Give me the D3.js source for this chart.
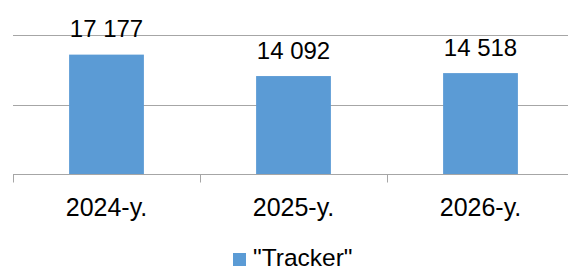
<!DOCTYPE html>
<html><head><meta charset="utf-8">
<script src="https://cdn.jsdelivr.net/npm/d3@7"></script>
<style>html,body{margin:0;padding:0;background:#fff;}svg{display:block;font-family:"Liberation Sans",Arial,sans-serif;}</style>
</head><body><svg id="c" width="568" height="269"></svg>
<script>
const categories = ["2024-y.", "2025-y.", "2026-y."];
const values = [17177, 14092, 14518];
const valueLabels = ["17 177", "14 092", "14 518"];
const yTicks = [0, 10000, 20000];
const seriesName = "\"Tracker\"";

(function () {
const svg = d3.select("#c");
const pLeft = 13, pRight = 574, pTop = 35, pBottom = 174;
const x = d3.scaleBand().domain(categories).range([pLeft, pRight]).paddingInner(0).paddingOuter(0);
const y = d3.scaleLinear().domain([0, 20000]).range([pBottom, pTop]);
const barW = x.bandwidth() * 0.4;
const color = "#5B9BD5";

// gridlines
svg.append("g").selectAll("line").data(yTicks.filter(d => d > 0)).join("line")
  .attr("x1", pLeft).attr("x2", pRight)
  .attr("y1", d => Math.round(y(d)) + 0.5).attr("y2", d => Math.round(y(d)) + 0.5)
  .attr("stroke", "#a6a6a6").attr("stroke-width", 1);

// bars
svg.append("g").selectAll("rect").data(values).join("rect")
  .attr("x", (d, i) => x(categories[i]) + (x.bandwidth() - barW) / 2)
  .attr("width", barW)
  .attr("y", d => y(d))
  .attr("height", d => pBottom - y(d))
  .attr("fill", color);

// x axis
const xa = svg.append("g").attr("transform", `translate(0,${pBottom + 0.5})`);
xa.append("line").attr("x1", pLeft).attr("x2", pRight).attr("stroke", "#a6a6a6");
const tickPos = categories.map(c => x(c)).concat([pRight]);
xa.selectAll("line.t").data(tickPos).join("line").attr("class", "t")
  .attr("x1", d => Math.round(d) + 0.5).attr("x2", d => Math.round(d) + 0.5)
  .attr("y1", 0).attr("y2", 8).attr("stroke", "#a6a6a6");

svg.append("g").selectAll("text").data(categories).join("text")
  .attr("x", d => x(d) + x.bandwidth() / 2)
  .attr("y", 216)
  .attr("text-anchor", "middle")
  .attr("font-size", 25)
  .attr("fill", "#000")
  .text(d => d);

// value labels
svg.append("g").selectAll("text").data(values).join("text")
  .attr("x", (d, i) => x(categories[i]) + x.bandwidth() / 2)
  .attr("y", d => y(d) - 17.5)
  .attr("text-anchor", "middle")
  .attr("font-size", 24)
  .attr("fill", "#000")
  .text((d, i) => valueLabels[i]);

// legend
const lg = svg.append("g");
lg.append("rect").attr("x", 233).attr("y", 253).attr("width", 13).attr("height", 13).attr("fill", color);
lg.append("text").attr("x", 253).attr("y", 266).attr("font-size", 24.5).attr("fill", "#000").text(seriesName);
})();
</script></body></html>
